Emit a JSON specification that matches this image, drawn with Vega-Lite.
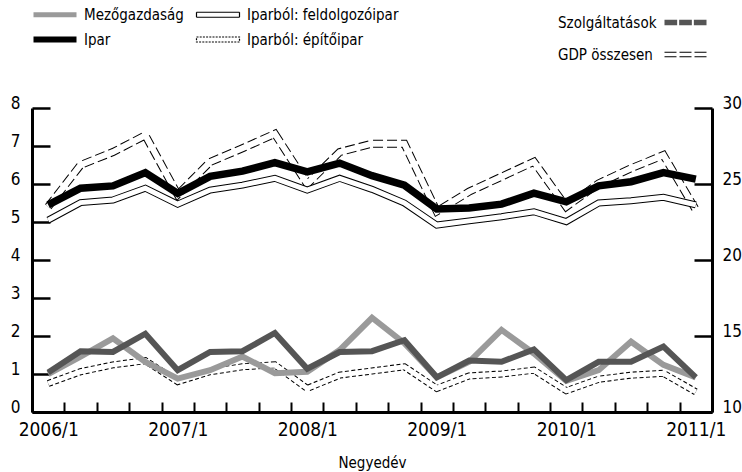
{
  "$schema": "https://vega.github.io/schema/vega-lite/v6.json",
  "width": 680,
  "height": 304,
  "autosize": "none",
  "padding": {"left": 32, "top": 108, "right": 30, "bottom": 60},
  "config": {
    "font": "DejaVu Sans Condensed",
    "view": {"stroke": null},
    "axis": {"grid": false, "labelColor": "#000", "titleColor": "#000", "tickColor": "#000", "domainColor": "#000"},
    "legend": {"labelColor": "#000", "labelFontSize": 15, "padding": 0, "symbolSize": 100}
  },
  "data": {
    "values": [
      {"negyedev": "2006/1", "mezogazdasag": 1.0, "ipar": 5.45, "feldolgozoipar": 5.05, "epitoipar": 0.75, "szolgaltatasok": 12.6, "gdp": 23.5},
      {"negyedev": "2006/2", "mezogazdasag": 1.46, "ipar": 5.89, "feldolgozoipar": 5.51, "epitoipar": 1.06, "szolgaltatasok": 14.0, "gdp": 26.25},
      {"negyedev": "2006/3", "mezogazdasag": 1.94, "ipar": 5.95, "feldolgozoipar": 5.58, "epitoipar": 1.24, "szolgaltatasok": 13.95, "gdp": 27.1},
      {"negyedev": "2006/4", "mezogazdasag": 1.32, "ipar": 6.3, "feldolgozoipar": 5.89, "epitoipar": 1.35, "szolgaltatasok": 15.15, "gdp": 28.2},
      {"negyedev": "2007/1", "mezogazdasag": 0.88, "ipar": 5.75, "feldolgozoipar": 5.47, "epitoipar": 0.8, "szolgaltatasok": 12.75, "gdp": 24.3},
      {"negyedev": "2007/2", "mezogazdasag": 1.1, "ipar": 6.2, "feldolgozoipar": 5.84, "epitoipar": 1.06, "szolgaltatasok": 13.95, "gdp": 26.45},
      {"negyedev": "2007/3", "mezogazdasag": 1.46, "ipar": 6.34, "feldolgozoipar": 5.97, "epitoipar": 1.19, "szolgaltatasok": 14.0, "gdp": 27.35},
      {"negyedev": "2007/4", "mezogazdasag": 1.02, "ipar": 6.56, "feldolgozoipar": 6.15, "epitoipar": 1.24, "szolgaltatasok": 15.2, "gdp": 28.3},
      {"negyedev": "2008/1", "mezogazdasag": 1.06, "ipar": 6.32, "feldolgozoipar": 5.84, "epitoipar": 0.62, "szolgaltatasok": 12.85, "gdp": 25.0},
      {"negyedev": "2008/2", "mezogazdasag": 1.63, "ipar": 6.55, "feldolgozoipar": 6.15, "epitoipar": 0.97, "szolgaltatasok": 13.95, "gdp": 27.1},
      {"negyedev": "2008/3", "mezogazdasag": 2.48, "ipar": 6.22, "feldolgozoipar": 5.86, "epitoipar": 1.08, "szolgaltatasok": 14.0, "gdp": 27.65},
      {"negyedev": "2008/4", "mezogazdasag": 1.81, "ipar": 5.97, "feldolgozoipar": 5.5, "epitoipar": 1.19, "szolgaltatasok": 14.72, "gdp": 27.65},
      {"negyedev": "2009/1", "mezogazdasag": 0.91, "ipar": 5.34, "feldolgozoipar": 4.92, "epitoipar": 0.62, "szolgaltatasok": 12.28, "gdp": 23.2},
      {"negyedev": "2009/2", "mezogazdasag": 1.32, "ipar": 5.37, "feldolgozoipar": 5.03, "epitoipar": 0.95, "szolgaltatasok": 13.38, "gdp": 24.5},
      {"negyedev": "2009/3", "mezogazdasag": 2.16, "ipar": 5.47, "feldolgozoipar": 5.14, "epitoipar": 1.0, "szolgaltatasok": 13.3, "gdp": 25.48},
      {"negyedev": "2009/4", "mezogazdasag": 1.54, "ipar": 5.76, "feldolgozoipar": 5.27, "epitoipar": 1.1, "szolgaltatasok": 14.12, "gdp": 26.47},
      {"negyedev": "2010/1", "mezogazdasag": 0.82, "ipar": 5.53, "feldolgozoipar": 5.01, "epitoipar": 0.56, "szolgaltatasok": 12.1, "gdp": 23.5},
      {"negyedev": "2010/2", "mezogazdasag": 1.1, "ipar": 5.95, "feldolgozoipar": 5.5, "epitoipar": 0.86, "szolgaltatasok": 13.3, "gdp": 25.04},
      {"negyedev": "2010/3", "mezogazdasag": 1.85, "ipar": 6.06, "feldolgozoipar": 5.56, "epitoipar": 0.97, "szolgaltatasok": 13.3, "gdp": 26.03},
      {"negyedev": "2010/4", "mezogazdasag": 1.24, "ipar": 6.3, "feldolgozoipar": 5.65, "epitoipar": 1.02, "szolgaltatasok": 14.3, "gdp": 26.9},
      {"negyedev": "2011/1", "mezogazdasag": 0.91, "ipar": 6.13, "feldolgozoipar": 5.45, "epitoipar": 0.53, "szolgaltatasok": 12.28, "gdp": 23.3}
    ]
  },
  "encoding": {
    "x": {
      "field": "negyedev", "type": "ordinal", "sort": null, "bandPosition": 0.5,
      "scale": {"type": "band", "paddingInner": 0, "paddingOuter": 0},
      "axis": {
        "title": "Negyedév", "titleFontSize": 15, "titleFontWeight": "normal", "titlePadding": 16,
        "tickBand": "extent", "labelAngle": 0, "labelOverlap": false,
        "labelExpr": "indexof(datum.label + '', '/1') > 0 ? datum.label : ''",
        "tickSize": -10, "tickWidth": 2, "domainWidth": 3,
        "labelFontSize": 19, "labelPadding": 18, "labelBaseline": "top"
      }
    }
  },
  "layer": [
    {
      "transform": [{"fold": ["gdp"], "as": ["series", "v"]}],
      "encoding": {
        "y": {"field": "v", "type": "quantitative", "scale": {"domain": [10, 30], "nice": false, "zero": false},
          "axis": {"orient": "right", "title": null, "values": [10, 15, 20, 25, 30], "tickSize": -18, "tickWidth": 2.5, "domainWidth": 3, "labelFontSize": 17, "labelBaseline": "alphabetic", "labelPadding": 28}}
      },
      "layer": [
        {"mark": {"type": "line", "strokeWidth": 8, "strokeDash": [10, 4]},
         "encoding": {"color": {"field": "series", "type": "nominal",
           "scale": {"domain": ["gdp"], "range": ["#000000"]},
           "legend": {"orient": "none", "legendX": 511, "legendY": -61, "labelExpr": "'GDP összesen'", "title": null, "labelOffset": 0,
             "encode": {"symbols": {"update": {
               "shape": {"value": "M22.8,-0.45H25.2M25.8,-0.45H28.2M28.8,-0.45H31.2M22.8,0.45H25.2M25.8,0.45H28.2M28.8,0.45H31.2"},
               "fill": {"value": "transparent"}, "stroke": {"value": "#000000"}, "strokeWidth": {"value": 1.2}, "strokeDash": {"value": [1, 0]}, "opacity": {"value": 1}, "size": {"value": 100}}}}}}}},
        {"mark": {"type": "line", "strokeWidth": 6, "color": "#ffffff"}, "encoding": {}}
      ]
    },
    {
      "encoding": {
        "y": {"field": "v", "type": "quantitative", "scale": {"domain": [0, 8], "nice": false},
          "axis": {"orient": "left", "title": null, "values": [0, 1, 2, 3, 4, 5, 6, 7, 8], "tickSize": -18, "tickWidth": 2.5, "domainWidth": 3, "labelFontSize": 17, "labelBaseline": "alphabetic", "labelPadding": 30}}
      },
      "layer": [
        {"transform": [{"fold": ["feldolgozoipar"], "as": ["series", "v"]}],
         "mark": {"type": "line", "strokeWidth": 7},
         "encoding": {"color": {"field": "series", "type": "nominal",
           "scale": {"domain": ["mezogazdasag", "ipar", "feldolgozoipar", "epitoipar"], "range": ["#9a9a9a", "#000000", "#000000", "#000000"]},
           "legend": {"orient": "none", "legendX": 0, "legendY": -101, "columns": 2, "columnPadding": 10, "rowPadding": 9, "labelOffset": 37, "title": null,
             "labelExpr": "datum.value === 'mezogazdasag' ? 'Mezőgazdaság' : datum.value === 'ipar' ? 'Ipar' : datum.value === 'feldolgozoipar' ? 'Iparból: feldolgozóipar' : 'Iparból: építőipar'",
             "encode": {"symbols": {"update": {
               "shape": {"signal": "datum.value === 'ipar' ? 'M-1.2,-0.6H7.4V0.6H-1.2Z' : 'M-1.2,-0.5H7.4V0.5H-1.2Z'"},
               "fill": {"signal": "datum.value === 'mezogazdasag' ? '#9a9a9a' : datum.value === 'ipar' ? '#000000' : '#ffffff'"},
               "stroke": {"signal": "datum.value === 'mezogazdasag' ? '#9a9a9a' : '#000000'"},
               "strokeWidth": {"signal": "datum.value === 'mezogazdasag' || datum.value === 'ipar' ? 0 : 1.2"},
               "strokeDash": {"signal": "datum.value === 'epitoipar' ? [2, 1.2] : [1, 0]"},
               "opacity": {"value": 1}, "size": {"value": 100}}}}}}}},
        {"transform": [{"fold": ["feldolgozoipar"], "as": ["series", "v"]}],
         "mark": {"type": "line", "strokeWidth": 5, "color": "#ffffff"}, "encoding": {}},
        {"transform": [{"fold": ["epitoipar"], "as": ["series", "v"]}],
         "mark": {"type": "line", "strokeWidth": 7, "strokeDash": [4, 2.5]},
         "encoding": {"color": {"field": "series", "type": "nominal"}}},
        {"transform": [{"fold": ["epitoipar"], "as": ["series", "v"]}],
         "mark": {"type": "line", "strokeWidth": 5, "color": "#ffffff"}, "encoding": {}},
        {"transform": [{"fold": ["ipar"], "as": ["series", "v"]}],
         "mark": {"type": "line", "strokeWidth": 7.5},
         "encoding": {"color": {"field": "series", "type": "nominal"}}},
        {"transform": [{"fold": ["mezogazdasag"], "as": ["series", "v"]}],
         "mark": {"type": "line", "strokeWidth": 6},
         "encoding": {"color": {"field": "series", "type": "nominal"}}}
      ]
    },
    {
      "transform": [{"fold": ["szolgaltatasok"], "as": ["series", "v"]}],
      "mark": {"type": "line", "strokeWidth": 6},
      "encoding": {
        "y": {"field": "v", "type": "quantitative", "scale": {"domain": [10, 30], "nice": false, "zero": false}, "axis": null},
        "color": {"field": "series", "type": "nominal",
          "scale": {"domain": ["szolgaltatasok"], "range": ["#555555"]},
          "legend": {"orient": "none", "legendX": 511, "legendY": -93, "labelExpr": "'Szolgáltatások'", "title": null, "labelOffset": 0,
            "encode": {"symbols": {"update": {
              "shape": {"value": "M22.8,-0.55H25.33V0.55H22.8Z M25.73,-0.55H28.27V0.55H25.73Z M28.67,-0.55H31.2V0.55H28.67Z"},
              "fill": {"value": "#555555"}, "stroke": {"value": "#555555"}, "strokeWidth": {"value": 0}, "strokeDash": {"value": [1, 0]}, "opacity": {"value": 1}, "size": {"value": 100}}}}}}
      }
    }
  ],
  "resolve": {"scale": {"y": "independent", "color": "independent"}, "axis": {"y": "independent"}, "legend": {"color": "independent"}}
}
